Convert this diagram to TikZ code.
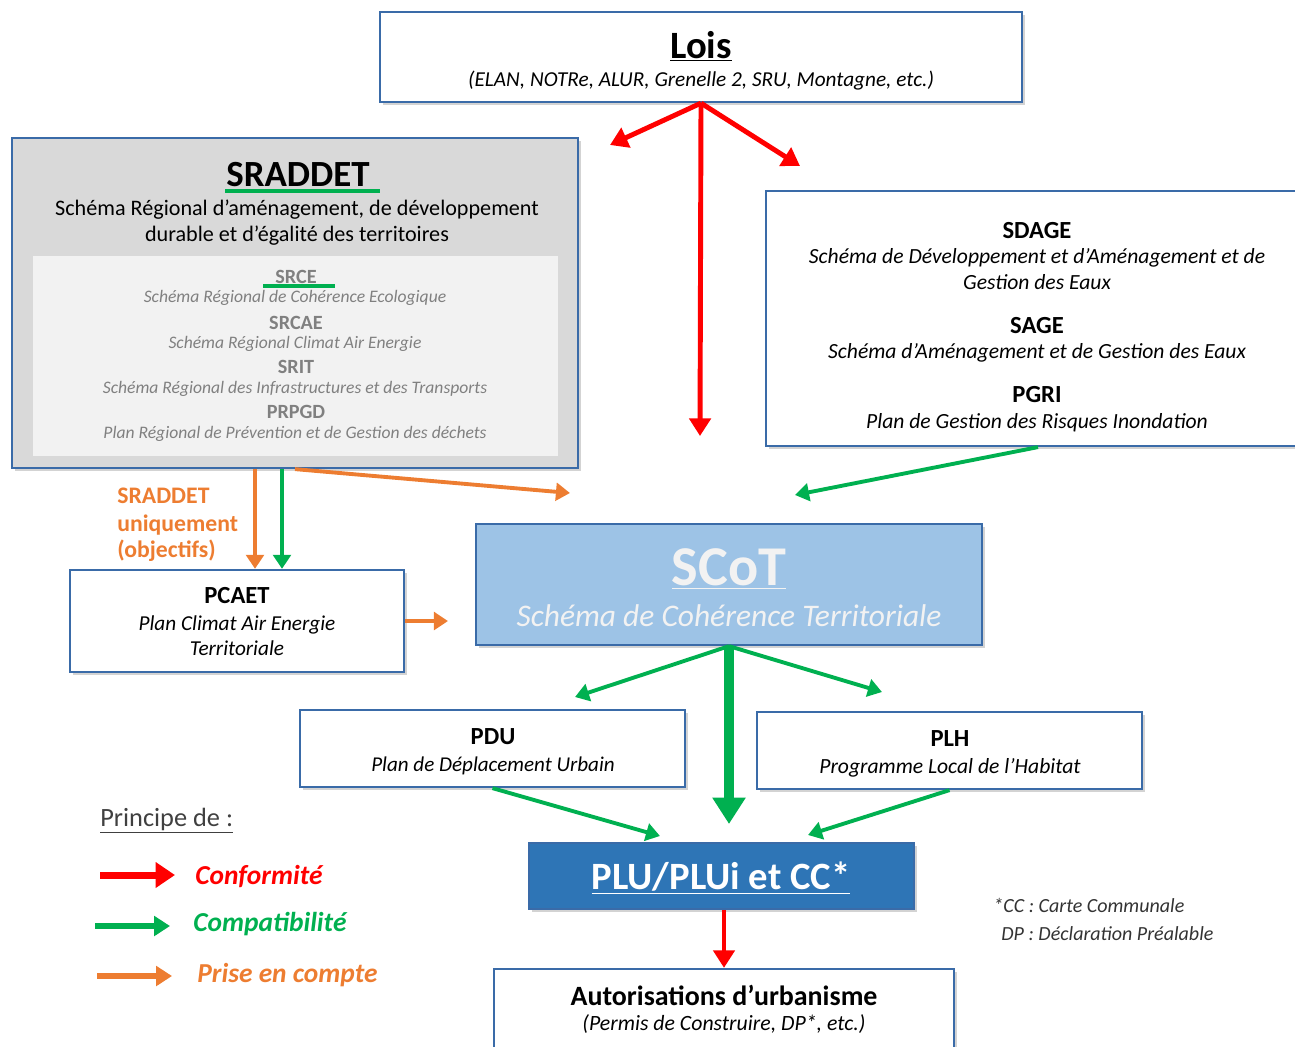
\documentclass[tikz,border=0pt]{standalone}
\usepackage{fontspec}
\setmainfont{Carlito}
\usetikzlibrary{arrows.meta,shadows}

\definecolor{boxblue}{HTML}{3A6BA8}
\definecolor{rougeconf}{HTML}{FF0000}
\definecolor{vertcompat}{HTML}{00B050}
\definecolor{orangepc}{HTML}{ED7D31}
\definecolor{grisfond}{HTML}{D9D9D9}
\definecolor{grisclair}{HTML}{F2F2F2}
\definecolor{gristexte}{HTML}{808080}
\definecolor{bleuscot}{HTML}{9DC3E6}
\definecolor{bleuplu}{HTML}{2E75B6}

\tikzset{
	box/.style = {draw = boxblue, line width = 1.3pt, fill = white, inner sep = 0pt,
		drop shadow = {shadow xshift = 1.8pt, shadow yshift = -1.8pt, opacity = 0.35}},
	txt/.style = {anchor = base, inner sep = 0pt},
	txtl/.style = {anchor = base west, inner sep = 0pt},
	conform/.style = {-{Triangle[length = 10pt, width = 12pt]}, draw = rougeconf, line width = 2.8pt},
	compat/.style = {-{Triangle[length = 8pt, width = 10pt]}, draw = vertcompat, line width = 2.2pt},
	prise/.style = {-{Triangle[length = 8pt, width = 10pt]}, draw = orangepc, line width = 2.2pt}
}

\begin{document}
\begin{tikzpicture}[x = 0.02cm, y = -0.02cm]
	
	\clip (0, 0) rectangle (1295, 1046);
	
	% boxes
	\node[box, minimum width = 12.84cm, minimum height = 1.8cm] (lois) at (701, 57) {};
	\node[box, fill = grisfond, minimum width = 11.32cm, minimum height = 6.6cm] (sraddet) at (295, 303) {};
	\node[fill = grisclair, inner sep = 0pt, minimum width = 10.5cm, minimum height = 4cm] (schemas) at (295.5, 356) {};
	\node[box, minimum width = 10.88cm, minimum height = 5.1cm] (sdage) at (1038, 318.5) {};
	\node[box, fill = bleuscot, minimum width = 10.12cm, minimum height = 2.42cm] (scot) at (729, 584.5) {};
	\node[box, minimum width = 6.68cm, minimum height = 2.04cm] (pcaet) at (237, 621) {};
	\node[box, minimum width = 7.7cm, minimum height = 1.54cm] (pdu) at (492.5, 748.5) {};
	\node[box, minimum width = 7.7cm, minimum height = 1.54cm] (plh) at (949.5, 750.5) {};
	\node[box, fill = bleuplu, minimum width = 7.7cm, minimum height = 1.32cm] (plu) at (721.5, 876) {};
	\node[box, minimum width = 9.2cm, minimum height = 1.82cm] (autor) at (724, 1014.5) {};
	
	% texts
	\node[txt, font = \fontsize{22}{26}\selectfont\bfseries] (loistitre) at (701, 58) {\underline{Lois}};
	\node[txt, font = \fontsize{12.1}{14}\selectfont\itshape] (loisliste) at (701, 86) {(ELAN, NOTRe, ALUR, Grenelle 2, SRU, Montagne, etc.)};
	
	\node[txt, font = \fontsize{21}{25}\selectfont\bfseries] (sraddettitre) at (298, 186) {SRADDET};
	\draw[vertcompat, line width = 2.3pt] (225, 191) -- (380, 191);
	\node[txt, font = \fontsize{12.6}{15}\selectfont] (sraddetnom1) at (297, 215) {Schéma Régional d’aménagement, de développement};
	\node[txt, font = \fontsize{12.6}{15}\selectfont] (sraddetnom2) at (297, 241) {durable et d’égalité des territoires};
	
	\node[txt, text = gristexte, font = \fontsize{11.5}{13}\selectfont\bfseries] (srce) at (296, 283) {SRCE};
	\draw[vertcompat, line width = 1.8pt] (263, 286) -- (335, 286);
	\node[txt, text = gristexte, font = \fontsize{10}{12}\selectfont\itshape] (srcenom) at (295, 302) {Schéma Régional de Cohérence Ecologique};
	\node[txt, text = gristexte, font = \fontsize{11.5}{13}\selectfont\bfseries] (srcae) at (296, 329) {SRCAE};
	\node[txt, text = gristexte, font = \fontsize{10}{12}\selectfont\itshape] (srcaenom) at (295, 348) {Schéma Régional Climat Air Energie};
	\node[txt, text = gristexte, font = \fontsize{11.5}{13}\selectfont\bfseries] (srit) at (296, 373) {SRIT};
	\node[txt, text = gristexte, font = \fontsize{10}{12}\selectfont\itshape] (sritnom) at (295, 393) {Schéma Régional des Infrastructures et des Transports};
	\node[txt, text = gristexte, font = \fontsize{11.5}{13}\selectfont\bfseries] (prpgd) at (296, 418) {PRPGD};
	\node[txt, text = gristexte, font = \fontsize{10}{12}\selectfont\itshape] (prpgdnom) at (295, 438) {Plan Régional de Prévention et de Gestion des déchets};
	
	\node[txt, font = \fontsize{14}{16}\selectfont\bfseries] (sdagetitre) at (1037, 238) {SDAGE};
	\node[txt, font = \fontsize{12.3}{14}\selectfont\itshape] (sdagenom1) at (1037, 263) {Schéma de Développement et d’Aménagement et de};
	\node[txt, font = \fontsize{12.3}{14}\selectfont\itshape] (sdagenom2) at (1037, 289) {Gestion des Eaux};
	\node[txt, font = \fontsize{14}{16}\selectfont\bfseries] (sage) at (1037, 333) {SAGE};
	\node[txt, font = \fontsize{12.3}{14}\selectfont\itshape] (sagenom) at (1037, 358) {Schéma d’Aménagement et de Gestion des Eaux};
	\node[txt, font = \fontsize{14}{16}\selectfont\bfseries] (pgri) at (1037, 402) {PGRI};
	\node[txt, font = \fontsize{12.3}{14}\selectfont\itshape] (pgrinom) at (1037, 428) {Plan de Gestion des Risques Inondation};
	
	\node[txt, text = grisclair, font = \fontsize{32}{36}\selectfont\bfseries] (scottitre) at (729, 585) {\underline{SCoT}};
	\node[txt, text = grisclair, font = \fontsize{17.9}{20}\selectfont\itshape] (scotnom) at (729, 626) {Schéma de Cohérence Territoriale};
	
	\node[txt, font = \fontsize{14}{16}\selectfont\bfseries] (pcaettitre) at (237, 603) {PCAET};
	\node[txt, font = \fontsize{12.1}{14}\selectfont\itshape] (pcaetnom1) at (237, 630) {Plan Climat Air Energie};
	\node[txt, font = \fontsize{12.1}{14}\selectfont\itshape] (pcaetnom2) at (237, 655) {Territoriale};
	
	\node[txt, font = \fontsize{14}{16}\selectfont\bfseries] (dutitre) at (493, 744) {PDU};
	\node[txt, font = \fontsize{12}{14}\selectfont\itshape] (dunom) at (493, 771) {Plan de Déplacement Urbain};
	\node[txt, font = \fontsize{14}{16}\selectfont\bfseries] (plhtitre) at (950, 746) {PLH};
	\node[txt, font = \fontsize{12.3}{14}\selectfont\itshape] (plhnom) at (950, 773) {Programme Local de l’Habitat};
	
	\node[txt, text = white, font = \fontsize{22}{26}\selectfont\bfseries] (plutitre) at (721, 889) {\underline{PLU/PLUi et CC*}};
	
	\node[txt, font = \fontsize{15.9}{19}\selectfont\bfseries] (autortitre) at (724, 1005) {Autorisations d’urbanisme};
	\node[txt, font = \fontsize{12.4}{14}\selectfont\itshape] (autornom) at (724, 1030) {(Permis de Construire, DP*, etc.)};
	
	\node[txtl, text = orangepc, font = \fontsize{13.5}{16}\selectfont\bfseries] (unique1) at (117, 503) {SRADDET};
	\node[txtl, text = orangepc, font = \fontsize{13.5}{16}\selectfont\bfseries] (unique2) at (117, 531) {uniquement};
	\node[txtl, text = orangepc, font = \fontsize{13.5}{16}\selectfont\bfseries] (unique3) at (117, 557) {(objectifs)};
	
	\node[txtl, text = black!75, font = \fontsize{15}{18}\selectfont] (principe) at (100, 826) {\underline{Principe de :}};
	\node[txtl, text = rougeconf, font = \fontsize{15.6}{18}\selectfont\bfseries\itshape] (conformite) at (195, 884) {Conformité};
	\node[txtl, text = vertcompat, font = \fontsize{15.6}{18}\selectfont\bfseries\itshape] (compatibilite) at (193, 931) {Compatibilité};
	\node[txtl, text = orangepc, font = \fontsize{15.6}{18}\selectfont\bfseries\itshape] (priseencompte) at (197, 982) {Prise en compte};
	
	\node[txtl, text = black!80, font = \fontsize{11.4}{13}\selectfont\itshape] (notecc) at (993, 912) {*CC : Carte Communale};
	\node[txtl, text = black!80, font = \fontsize{11.4}{13}\selectfont\itshape] (notedp) at (1001, 940) {DP : Déclaration Préalable};
	
	% free ends of the connectors
	\coordinate (loisgauche) at (610, 145);
	\coordinate (loisdroite) at (800, 166);
	\coordinate (loisbas) at (700, 436);
	\coordinate (versscot1) at (570, 493);
	\coordinate (versscot2) at (795, 495);
	\coordinate (versscot3) at (448, 621);
	\coordinate (orangehaut) at (255, 469);
	\coordinate (verthaut) at (282, 469);
	\coordinate (scotpdu) at (575, 697);
	\coordinate (scotplh) at (882, 692);
	\coordinate (scotplu) at (729, 824);
	\coordinate (pduplu) at (660, 836);
	\coordinate (plhplu) at (808, 835);
	\coordinate (legrouge) at (100, 875);
	\coordinate (legvert) at (95, 926);
	\coordinate (legorange) at (97, 976);
	
	% connectors
	\draw[conform] (lois.south) -- (loisgauche);
	\draw[conform] (lois.south) -- (loisdroite);
	\draw[conform] (lois.south) -- (loisbas);
	
	\draw[prise] (sraddet.south) -- (versscot1);
	\draw[compat] (sdage.south) -- (versscot2);
	\draw[prise] (orangehaut) -- (orangehaut |- pcaet.north);
	\draw[compat] (verthaut) -- (verthaut |- pcaet.north);
	\draw[prise] (pcaet.east) -- (versscot3);
	
	\draw[compat] (scot.south) -- (scotpdu);
	\draw[compat] (scot.south) -- (scotplh);
	\draw[compat, line width = 5.6pt, -{Triangle[length = 15pt, width = 18pt]}] (scot.south) -- (scotplu);
	\draw[compat] (pdu.south) -- (pduplu);
	\draw[compat] (plh.south) -- (plhplu);
	\draw[conform] (plu.south -| autor.north) -- (autor.north);
	
	% legend
	\draw[conform, line width = 4pt, -{Triangle[length = 11pt, width = 14pt]}] (legrouge) -- ++(75, 0);
	\draw[compat, line width = 3pt, -{Triangle[length = 9pt, width = 11pt]}] (legvert) -- ++(75, 0);
	\draw[prise, line width = 3pt, -{Triangle[length = 9pt, width = 11pt]}] (legorange) -- ++(75, 0);
	
\end{tikzpicture}
\end{document}
